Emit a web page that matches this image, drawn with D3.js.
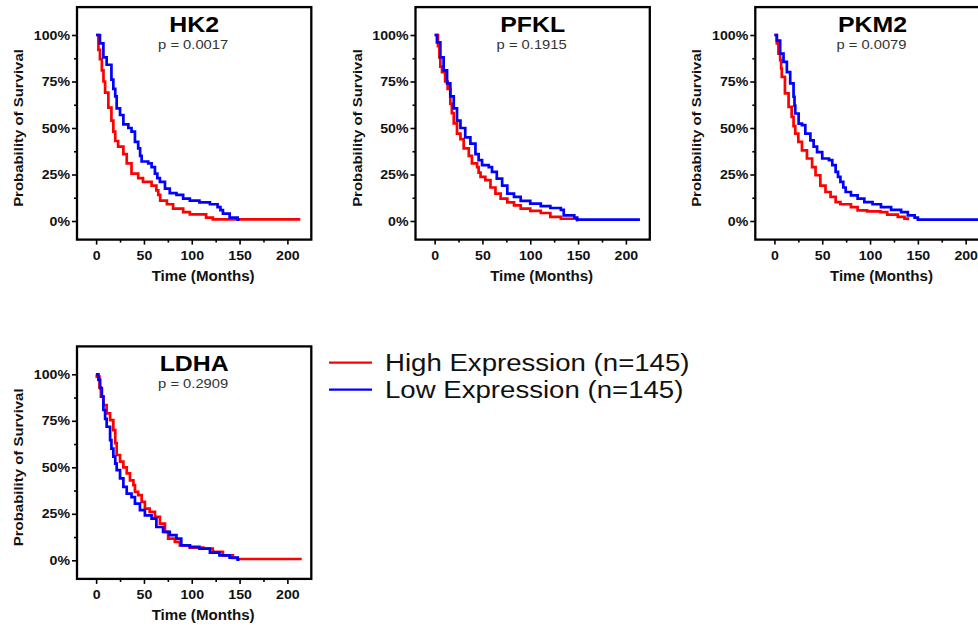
<!DOCTYPE html>
<html><head><meta charset="utf-8">
<script src="https://cdn.jsdelivr.net/npm/d3@7"></script>
<style>html,body{margin:0;padding:0;background:#fff;overflow:hidden}</style>
</head><body><svg id="c" width="978" height="628"></svg>
<script>
// ---------- data ----------
const genes = ['HK2', 'PFKL', 'PKM2', 'LDHA'];
const pValues = ['0.0017', '0.1915', '0.0079', '0.2909'];
const seriesLabels = ['High Expression (n=145)', 'Low Expression (n=145)'];
const yTickValues = [0, 0.25, 0.5, 0.75, 1];
const yMinorTicks = [0.125, 0.375, 0.625, 0.875];
const xTickValues = [0, 50, 100, 150, 200];
const xMinorTicks = [25, 75, 125, 175];

const hk2HighTime = [0, 2.4, 4, 6, 7.7, 9.4, 12.8, 16, 18, 20, 23, 28.5, 32, 37, 44, 49, 58, 63, 65, 67, 74, 80.5, 91, 98, 115, 122, 213.5];
const hk2HighSurv = [1, .92, .87, .81, .75, .69, .61, .54, .48, .43, .40, .36, .31, .255, .23, .21, .19, .165, .14, .11, .09, .066, .048, .036, .018, .009, .009];
const hk2LowTime = [0, 4, 7.6, 11, 16, 18, 20, 21.5, 25, 28.5, 33.7, 37, 40.6, 44, 46, 47.6, 54.5, 58, 61.5, 64, 66.7, 72, 77, 84, 91, 98, 108, 119, 127, 130, 132.6, 139.6, 148, 150];
const hk2LowSurv = [1, .955, .88, .84, .76, .71, .67, .605, .57, .52, .50, .48, .425, .39, .35, .32, .31, .29, .255, .23, .21, .174, .15, .14, .12, .11, .10, .09, .075, .058, .04, .018, .007, .007];

const pfklHighTime = [0, 3.5, 5, 6, 7.7, 11, 13.6, 16.4, 18, 20, 23.4, 27, 30.4, 35.7, 39, 44.4, 46, 48, 53, 58.4, 63.6, 69, 76, 83, 90, 100, 111, 121, 132, 149, 150];
const pfklHighSurv = [1, .94, .88, .83, .80, .75, .71, .63, .58, .525, .47, .44, .39, .35, .31, .29, .26, .237, .22, .18, .147, .12, .10, .084, .066, .054, .043, .022, .012, .004, .004];
const pfklLowTime = [0, 2.4, 6, 9.4, 13, 16.4, 20, 23.4, 27, 32, 37.4, 42.7, 46, 49.6, 56.6, 60, 65, 70.6, 76, 83, 90, 100, 111, 121, 132, 135, 146, 149, 214.7];
const pfklLowSurv = [1, .96, .88, .81, .74, .67, .605, .54, .50, .45, .416, .36, .327, .30, .29, .264, .228, .19, .147, .13, .108, .093, .08, .07, .06, .03, .018, .007, .007];

const pkm2HighTime = [0, 2.5, 4.2, 6, 7, 7.7, 11, 14.8, 18, 20, 21.8, 25, 28.8, 34, 39.4, 43, 48, 53.4, 58.7, 64, 69, 80, 87, 97, 111, 118, 129, 136, 139.5];
const pkm2HighSurv = [1, .955, .90, .865, .82, .775, .686, .614, .56, .51, .47, .425, .38, .336, .29, .246, .19, .156, .13, .102, .09, .075, .057, .052, .048, .034, .022, .013, .004];
const pkm2LowTime = [0, 2.5, 6, 9.5, 13, 16.5, 20, 21, 21.8, 25.3, 28.8, 32.3, 37.6, 41, 44.6, 50, 57, 60.5, 64, 66.5, 69, 72, 74.5, 80, 87, 94, 102.6, 111.4, 122, 132.5, 139.5, 146.6, 150, 214];
const pkm2LowSurv = [1, .97, .90, .856, .80, .74, .668, .62, .578, .524, .515, .47, .434, .40, .37, .336, .327, .30, .264, .237, .21, .18, .156, .138, .12, .102, .09, .075, .06, .048, .03, .018, .007, .007];

const ldhaHighTime = [0, 0.7, 3.5, 5, 7.6, 11, 14.6, 18, 20, 21.5, 25, 28.5, 32, 35.4, 39, 40.6, 44, 47.6, 51, 56, 61.5, 66.7, 72, 75.3, 82.3, 87.5, 98, 112, 122, 132.6, 143, 148, 215];
const ldhaHighSurv = [1, .987, .93, .88, .835, .79, .754, .70, .63, .566, .53, .50, .467, .43, .404, .368, .35, .314, .278, .26, .233, .197, .153, .117, .099, .08, .068, .063, .045, .027, .013, .007, .007];
const ldhaLowTime = [0, 2.4, 4.2, 6, 7.6, 9.4, 11, 14.6, 16, 18, 20, 21.5, 25, 28.5, 32, 37, 40.6, 45.8, 51, 58, 63, 70, 77, 84, 89, 98, 108, 119, 129, 139.6, 148, 150];
const ldhaLowSurv = [1, .97, .925, .88, .808, .76, .718, .646, .60, .557, .52, .485, .44, .395, .359, .34, .305, .27, .242, .224, .179, .153, .135, .117, .08, .072, .063, .041, .027, .014, .004, .004];

// ---------- layout ----------
const zip = (t, s) => t.map((v, i) => [v, s[i]]);
const panelData = [
  [zip(hk2HighTime, hk2HighSurv), zip(hk2LowTime, hk2LowSurv)],
  [zip(pfklHighTime, pfklHighSurv), zip(pfklLowTime, pfklLowSurv)],
  [zip(pkm2HighTime, pkm2HighSurv), zip(pkm2LowTime, pkm2LowSurv)],
  [zip(ldhaHighTime, ldhaHighSurv), zip(ldhaLowTime, ldhaLowSurv)]
];
const offsets = [[0, 0], [338.5, 0], [678.3, 0], [0, 339.3]];
const colors = ['#ff0000', '#0000ff'];
const FONT = '"Liberation Sans", Arial, Helvetica, sans-serif';

const svg = d3.select('#c');
const x = d3.scaleLinear().domain([-20, 225]).range([77, 311.3]);
const y = d3.scaleLinear().domain([-0.1, 1.15]).range([239.6, 7.1]);
const line = d3.line().x(d => x(d[0])).y(d => y(d[1])).curve(d3.curveStepAfter);

function stretchText(g, tx, ty, k) {
  return g.attr('transform', `translate(${tx},${ty}) scale(${k},1)`);
}

genes.forEach((gene, i) => {
  const g = svg.append('g').attr('transform', `translate(${offsets[i][0]},${offsets[i][1]})`);

  // curves
  panelData[i].forEach((d, j) => {
    g.append('path').datum(d).attr('d', line)
      .attr('fill', 'none').attr('stroke', colors[j]).attr('stroke-width', 2.7);
  });

  // frame
  g.append('rect')
    .attr('x', x(-20)).attr('y', y(1.15))
    .attr('width', x(225) - x(-20)).attr('height', y(-0.1) - y(1.15))
    .attr('fill', 'none').attr('stroke', '#000').attr('stroke-width', 2.3);

  // axes
  const gy = g.append('g').attr('transform', `translate(${x(-20)},0)`)
    .call(d3.axisLeft(y).tickValues(yTickValues).tickFormat(d3.format('.0%')).tickSize(5));
  const gyMinor = g.append('g').attr('transform', `translate(${x(-20)},0)`)
    .call(d3.axisLeft(y).tickValues(yMinorTicks).tickFormat('').tickSize(3));
  const gx = g.append('g').attr('transform', `translate(0,${y(-0.1)})`)
    .call(d3.axisBottom(x).tickValues(xTickValues).tickFormat(d3.format('d')).tickSize(5));
  const gxMinor = g.append('g').attr('transform', `translate(0,${y(-0.1)})`)
    .call(d3.axisBottom(x).tickValues(xMinorTicks).tickFormat('').tickSize(3));
  [gy, gyMinor, gx, gxMinor].forEach(a => {
    a.select('.domain').remove();
    a.selectAll('line').attr('stroke', '#000').attr('stroke-width', 1.6);
  });
  gy.selectAll('text').attr('x', null).attr('dy', '0.34em')
    .attr('transform', 'translate(-7,0) scale(1.18,1)')
    .style('font-family', FONT).style('font-weight', 'bold').style('font-size', '12px').attr('fill', '#111');
  gx.selectAll('text').attr('y', null).attr('dy', '0.71em')
    .attr('transform', 'translate(0,12) scale(1.18,1)')
    .style('font-family', FONT).style('font-weight', 'bold').style('font-size', '12px').attr('fill', '#111');

  const cx = (x(-20) + x(225)) / 2;

  // title
  stretchText(g.append('text'), cx, y(1) - 3, 1.13)
    .attr('text-anchor', 'middle').style('font-family', FONT).style('font-weight', 'bold')
    .style('font-size', '22px').attr('fill', '#000').text(gene);
  // p-value
  stretchText(g.append('text'), cx - 1, y(1) + 14, 1.18)
    .attr('text-anchor', 'middle').style('font-family', FONT)
    .style('font-size', '12.5px').attr('fill', '#333').text('p = ' + pValues[i]);

  // axis titles
  stretchText(g.append('text'), cx + 9, 281, 1.08)
    .attr('text-anchor', 'middle').style('font-family', FONT).style('font-weight', 'bold')
    .style('font-size', '14px').attr('fill', '#111').text('Time (Months)');
  g.append('text')
    .attr('transform', `translate(23,${y(0.5)}) rotate(-90) scale(1.15,1)`)
    .attr('text-anchor', 'middle').style('font-family', FONT).style('font-weight', 'bold')
    .style('font-size', '13px').attr('fill', '#111').text('Probability of Survival');
});

// legend
const leg = svg.append('g');
seriesLabels.forEach((lab, j) => {
  const by = 371 + j * 27;
  leg.append('line').attr('x1', 329).attr('x2', 372).attr('y1', by - 8.3).attr('y2', by - 8.3)
    .attr('stroke', colors[j]).attr('stroke-width', 2.2);
  stretchText(leg.append('text'), 385, by, 1.15)
    .style('font-family', FONT).style('font-size', '24px').attr('fill', '#111').text(lab);
});
</script>
</body></html>
